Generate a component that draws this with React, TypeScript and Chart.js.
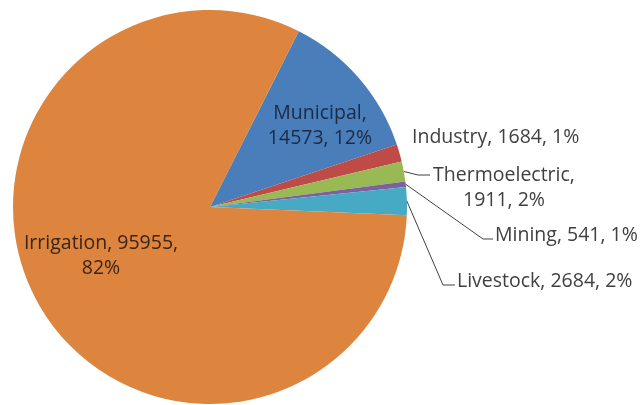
import React, { useEffect, useRef } from "react";
import { Chart, registerables } from "chart.js";

Chart.register(...registerables);

const categories = ["Municipal", "Industry", "Thermoelectric", "Mining", "Livestock", "Irrigation"];
const values = [14573, 1684, 1911, 541, 2684, 95955];
const percents = ["12%", "1%", "2%", "1%", "2%", "82%"];
const colors = ["#4A7EBB", "#BE4B48", "#98B954", "#7D60A0", "#46AAC5", "#DD843F"];

// label layout (offsets in px relative to pie center)
type LabelCfg = {
  align: "left" | "center";
  dx: number;
  dy: number; // y of first line
  color: string;
  elbow?: [number, number, number]; // elbow dx, dy, end dx
};

const labelLayout: LabelCfg[] = [
  { align: "center", dx: 110, dy: -94, color: "#1b2a45" },
  { align: "left", dx: 202, dy: -70, color: "#404040" },
  { align: "center", dx: 294, dy: -32, color: "#404040", elbow: [208, -32, 220] },
  { align: "left", dx: 285, dy: 28, color: "#404040", elbow: [273, 32, 283] },
  { align: "left", dx: 247, dy: 74, color: "#404040", elbow: [233, 78, 245] },
  { align: "center", dx: -109, dy: 36, color: "#3a2414" },
];

function labelLines(i: number): string[] {
  const name = categories[i];
  const v = values[i];
  const p = percents[i];
  if (i === 0 || i === 2) return [name + ",", v + ", " + p];
  if (i === 5) return [name + ", " + v + ",", p];
  return [name + ", " + v + ", " + p];
}

const labelPlugin = {
  id: "excelLabels",
  afterDraw(chart: any) {
    const ctx = chart.ctx;
    const meta = chart.getDatasetMeta(0);
    ctx.save();
    ctx.font = "19.5px 'Open Sans'";
    ctx.textBaseline = "middle";
    meta.data.forEach((arc: any, i: number) => {
      const { x, y, startAngle, endAngle, outerRadius } = arc.getProps(
        ["x", "y", "startAngle", "endAngle", "outerRadius"],
        true
      );
      const cfg = labelLayout[i];
      const lines = labelLines(i);
      if (cfg.elbow) {
        const mid = (startAngle + endAngle) / 2;
        const sx = x + Math.cos(mid) * outerRadius;
        const sy = y + Math.sin(mid) * outerRadius;
        ctx.strokeStyle = "#404040";
        ctx.lineWidth = 1;
        ctx.beginPath();
        ctx.moveTo(sx, sy);
        ctx.lineTo(x + cfg.elbow[0], y + cfg.elbow[1]);
        ctx.lineTo(x + cfg.elbow[2], y + cfg.elbow[1]);
        ctx.stroke();
      }
      ctx.fillStyle = cfg.color;
      ctx.textAlign = cfg.align;
      lines.forEach((ln, k) => {
        ctx.fillText(ln, x + cfg.dx, y + cfg.dy + k * 25);
      });
    });
    ctx.restore();
  },
};

export default function App() {
  const ref = useRef<HTMLCanvasElement | null>(null);
  useEffect(() => {
    if (!ref.current) return;
    const chart = new Chart(ref.current, {
      type: "pie",
      data: {
        labels: categories,
        datasets: [
          {
            data: values,
            backgroundColor: colors,
            borderWidth: 0,
          },
        ],
      },
      options: {
        responsive: false,
        animation: false,
        rotation: 26.8,
        layout: { padding: { left: 13, top: 10, right: 235, bottom: 1 } },
        plugins: {
          legend: { display: false },
          tooltip: { enabled: false },
        },
      },
      plugins: [labelPlugin],
    });
    return () => chart.destroy();
  }, []);
  return (
    <div style={{ position: "fixed", left: 0, top: 0, width: 642, height: 405, background: "#fff" }}>
      <canvas ref={ref} width={642} height={405} style={{ width: 642, height: 405, display: "block" }} />
    </div>
  );
}
